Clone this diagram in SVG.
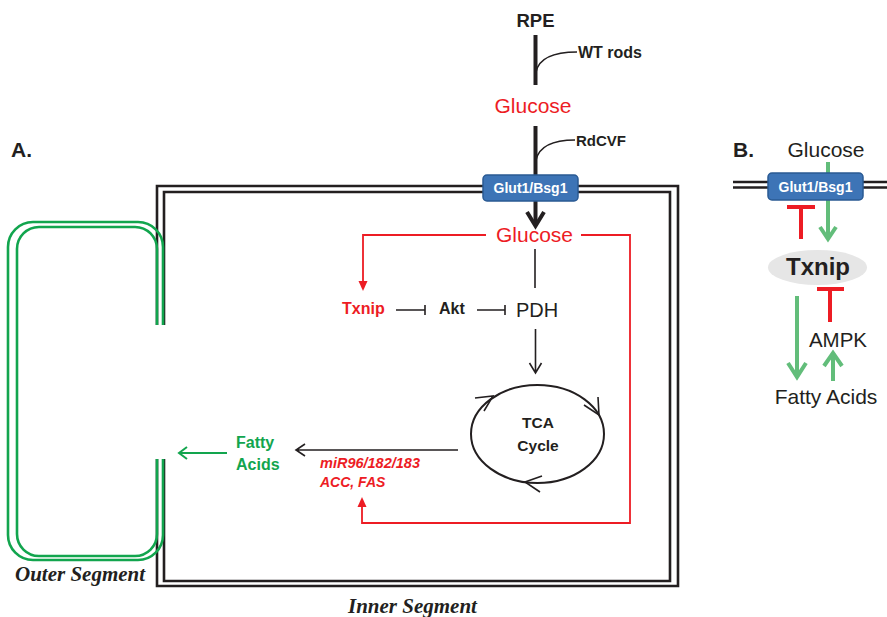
<svg xmlns="http://www.w3.org/2000/svg" width="887" height="617" viewBox="0 0 887 617">
<style>
text{font-family:"Liberation Sans",Arial,sans-serif;fill:#231f20}
.b{font-weight:bold}
.red{fill:#ed1c24}
.grn{fill:#12a54e}
.wt{fill:#fff;font-weight:bold;font-size:14px}
.ser{font-family:"Liberation Serif","Times New Roman",serif;font-weight:bold;font-style:italic;font-size:21px}
.mem{fill:none;stroke:#231f20;stroke-width:2.6}
.gmem{fill:none;stroke:#12a54e;stroke-width:2.6}
.thin{fill:none;stroke:#231f20;stroke-width:1.6}
.thick{fill:none;stroke:#231f20;stroke-width:4}
.rl{fill:none;stroke:#ed1c24;stroke-width:1.8}
.gl{fill:none;stroke:#12a54e;stroke-width:2}
.lg{fill:none;stroke:#62bd7a;stroke-width:4}
.lr{fill:none;stroke:#ed1c24;stroke-width:4}
.glut{fill:#3d74b6;stroke:#2a5a93;stroke-width:1.5}
</style>

<!-- Panel A membranes -->
<g id="inner-segment-membrane">
<path class="mem" d="M157,325 V186 H678 V586 H157 V459"/>
<path class="mem" d="M164,325 V192 H670 V581 H164 V459"/>
</g>
<g id="outer-segment-membrane">
<path class="gmem" d="M163,325 V247 A25,25 0 0 0 138,222 H33 A25,25 0 0 0 8,247 V535 A25,25 0 0 0 33,560 H138 A25,25 0 0 0 163,535 V459"/>
<path class="gmem" d="M157,325 V249 A22,22 0 0 0 135,227 H39 A22,22 0 0 0 17,249 V534 A22,22 0 0 0 39,556 H135 A22,22 0 0 0 157,534 V459"/>
</g>

<!-- Panel B membrane -->
<g id="b-membrane">
<path class="mem" d="M733,182 H887 M733,187.5 H887"/>
</g>

<!-- Connectors -->
<g id="connectors">
<!-- RPE to glucose -->
<path class="thick" d="M535.5,35 V85"/>
<path class="thin" d="M536,72 C539,58 553,52 577,52"/>
<path class="thick" d="M535.5,126 V176"/>
<path class="thin" d="M536,160 C539,147 552,140 575,140"/>
<path class="thick" d="M535.5,201 V224"/>
<path class="thick" d="M527,212 L535.5,226 L544,212"/>
<!-- red glucose arrows -->
<path class="rl" d="M486,235 H363 V283"/>
<path d="M358.5,281 L367.5,281 L363,291 Z" fill="#ed1c24"/>
<path class="rl" d="M581,235 H630 V523 H362 V505"/>
<path d="M357.5,507 L366.5,507 L362,497 Z" fill="#ed1c24"/>
<!-- glucose to PDH -->
<path class="thin" d="M535,249 V288"/>
<!-- inhibitions -->
<path class="thin" d="M396,310 H425 M425,305 V315"/>
<path class="thin" d="M477,310 H505 M505,305 V315"/>
<!-- PDH to TCA -->
<path class="thin" d="M535.5,329 V372 M529.5,363 L535.5,373 L541.5,363"/>
<!-- TCA cycle -->
<ellipse cx="537.5" cy="434" rx="66.5" ry="49" fill="none" stroke="#231f20" stroke-width="2"/>
<path class="thin" stroke-width="2.6" d="M475,398 L493,396 L484,411"/>
<path class="thin" stroke-width="2.6" d="M584,405 L599,415 L598,397"/>
<path class="thin" stroke-width="2.6" d="M542,476 L525,482 L540,492"/>
<!-- TCA to fatty acids -->
<path class="thin" stroke-width="2" d="M458,450 H296 M305,444 L296,450 L305,456"/>
<path class="gl" d="M227,453 H179 M187,447 L179,453 L187,459"/>
<!-- Panel B -->
<path class="lg" d="M828,162 V174 M828,200 V238 M820,227 L828,239 L836,227"/>
<path class="lr" d="M801,239 V207 M787,207 H815"/>
<path class="lr" d="M830,322 V289 M817,289 H844"/>
<path class="lg" d="M797,296 V376 M788,363 L797,377 L806,363"/>
<path class="lg" d="M833,381 V354 M824,366 L833,353 L842,366"/>
</g>

<!-- Nodes -->
<g id="label-A"><text class="b" x="11" y="157" font-size="21">A.</text></g>
<g id="rpe"><text class="b" x="535.5" y="27" font-size="18.5" text-anchor="middle">RPE</text></g>
<g id="wt-rods"><text class="b" x="578" y="58" font-size="16">WT rods</text></g>
<g id="glucose-out"><text class="red" x="533" y="113" font-size="21" text-anchor="middle">Glucose</text></g>
<g id="rdcvf"><text class="b" x="576" y="146" font-size="15">RdCVF</text></g>
<g id="glut-a">
<rect class="glut" x="483" y="175" width="95" height="26" rx="4"/>
<text class="wt" x="530.5" y="193" text-anchor="middle">Glut1/Bsg1</text>
</g>
<g id="glucose-in"><text class="red" x="534.5" y="242" font-size="21" text-anchor="middle">Glucose</text></g>
<g id="txnip-a"><text class="b red" x="342" y="314" font-size="16">Txnip</text></g>
<g id="akt"><text class="b" x="439" y="314" font-size="16">Akt</text></g>
<g id="pdh"><text x="516" y="317" font-size="20">PDH</text></g>
<g id="tca">
<text class="b" x="538" y="428" font-size="15.5" text-anchor="middle">TCA</text>
<text class="b" x="538" y="451" font-size="15.5" text-anchor="middle">Cycle</text>
</g>
<g id="fatty-acids-a">
<text class="b grn" x="236" y="448" font-size="16">Fatty</text>
<text class="b grn" x="236" y="470" font-size="16">Acids</text>
</g>
<g id="mir">
<text class="b red" x="320" y="468" font-size="14.5" font-style="italic">miR96/182/183</text>
<text class="b red" x="320" y="487" font-size="14" font-style="italic">ACC, FAS</text>
</g>
<g id="outer-segment"><text class="ser" x="15" y="581">Outer Segment</text></g>
<g id="inner-segment"><text class="ser" x="348" y="613">Inner Segment</text></g>

<g id="label-B"><text class="b" x="733" y="157" font-size="21">B.</text></g>
<g id="glucose-b"><text x="826" y="157" font-size="21" text-anchor="middle">Glucose</text></g>
<g id="glut-b">
<rect class="glut" x="768" y="173" width="95" height="27" rx="4"/>
<text class="wt" x="815.5" y="192" text-anchor="middle">Glut1/Bsg1</text>
</g>
<g id="txnip-b">
<ellipse cx="817.5" cy="267.5" rx="49.5" ry="17.5" fill="#e6e6e6"/>
<text class="b" x="818" y="275" font-size="24" text-anchor="middle">Txnip</text>
</g>
<g id="ampk"><text x="838" y="347" font-size="20.5" text-anchor="middle">AMPK</text></g>
<g id="fatty-acids-b"><text x="826" y="404" font-size="21" text-anchor="middle">Fatty Acids</text></g>
</svg>
